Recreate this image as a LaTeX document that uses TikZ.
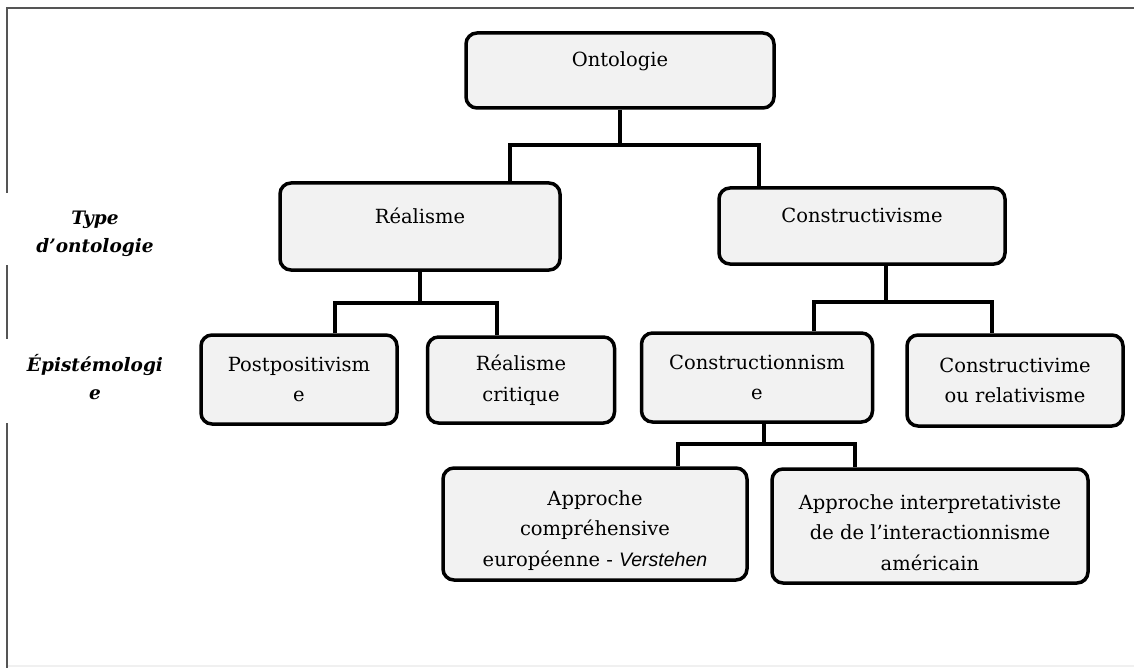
\documentclass[tikz,border=0pt]{standalone}
\usepackage{fontspec}
\setmainfont{DejaVu Serif}
\newfontfamily\sansfont{Liberation Sans}
\usetikzlibrary{positioning}

\definecolor{boxgray}{HTML}{F2F2F2}
\definecolor{framegray}{HTML}{555555}

\tikzset{
  box/.style={draw, line width=3.5pt, rounded corners=11pt, fill=boxgray,
    align=center, inner sep=0pt, font=\fontsize{19.5}{30.5}\selectfont},
  upper/.style={text depth=22pt},
  lower/.style={text height=89pt},
  link/.style={line width=3.5pt},
  side/.style={align=center, font=\fontsize{18.5}{28}\selectfont\bfseries\itshape},
  frame/.style={draw=framegray, line width=2pt}
}

\begin{document}
\begin{tikzpicture}[x=1pt,y=-1pt]
  \useasboundingbox (0,0) rectangle (1134,668);

  % page frame
  \draw[frame] (7,193) -- (7,8) -- (1134,8);
  \draw[frame] (7,265) -- (7,339);
  \draw[frame] (7,423) -- (7,668);
  \draw[draw=black!6, line width=2pt] (8,666) -- (1134,666);

  % side labels
  \node[side] (typeont) at (95,234) {Type\\d’ontologie};
  \node[side] (episte)  at (95,377) {Épistémologi\\e};

  % boxes
  \node[box, upper, minimum width=308pt, minimum height=75pt] (onto) at (620,70.5) {Ontologie};
  \node[box, upper, minimum width=280pt, minimum height=87pt] (real) at (420,226.5) {Réalisme};
  \node[box, upper, minimum width=286pt, minimum height=76pt] (cons) at (862,226) {Constructivisme};
  \node[box, minimum width=196pt, minimum height=89pt] (postp) at (299,379.5) {Postpositivism\\e};
  \node[box, minimum width=187pt, minimum height=86pt] (rcrit) at (521,380) {Réalisme\\critique};
  \node[box, minimum width=231pt, minimum height=89pt] (cnism) at (757,377.5) {Constructionnism\\e};
  \node[box, minimum width=216pt, minimum height=91pt] (cvime) at (1015,380.5) {Constructivime\\ou relativisme};
  \node[box, lower, minimum width=304pt, minimum height=112pt] (appc) at (595,524) {Approche\\compréhensive\\européenne - {\sansfont\itshape Verstehen}};
  \node[box, lower, minimum width=316pt, minimum height=114pt] (appi) at (930,526) {Approche interpretativiste\\de de l’interactionnisme\\américain};

  % connectors
  \coordinate (j0) at (620,145);
  \coordinate (j0l) at (510,145);
  \coordinate (j0r) at (759,145);
  \draw[link] (onto.south -| j0) -- (j0);
  \draw[link] (j0l |- real.north) -- (j0l) -- (j0r) -- (j0r |- cons.north);

  \coordinate (j1) at (420,303);
  \coordinate (j1l) at (335,303);
  \coordinate (j1r) at (497,303);
  \draw[link] (real.south -| j1) -- (j1);
  \draw[link] (j1l |- postp.north) -- (j1l) -- (j1r) -- (j1r |- rcrit.north);

  \coordinate (j2) at (886,302);
  \coordinate (j2l) at (814,302);
  \coordinate (j2r) at (992,302);
  \draw[link] (cons.south -| j2) -- (j2);
  \draw[link] (j2l |- cnism.north) -- (j2l) -- (j2r) -- (j2r |- cvime.north);

  \coordinate (j3) at (764,444);
  \coordinate (j3l) at (678,444);
  \coordinate (j3r) at (855,444);
  \draw[link] (cnism.south -| j3) -- (j3);
  \draw[link] (j3l |- appc.north) -- (j3l) -- (j3r) -- (j3r |- appi.north);
\end{tikzpicture}
\end{document}
